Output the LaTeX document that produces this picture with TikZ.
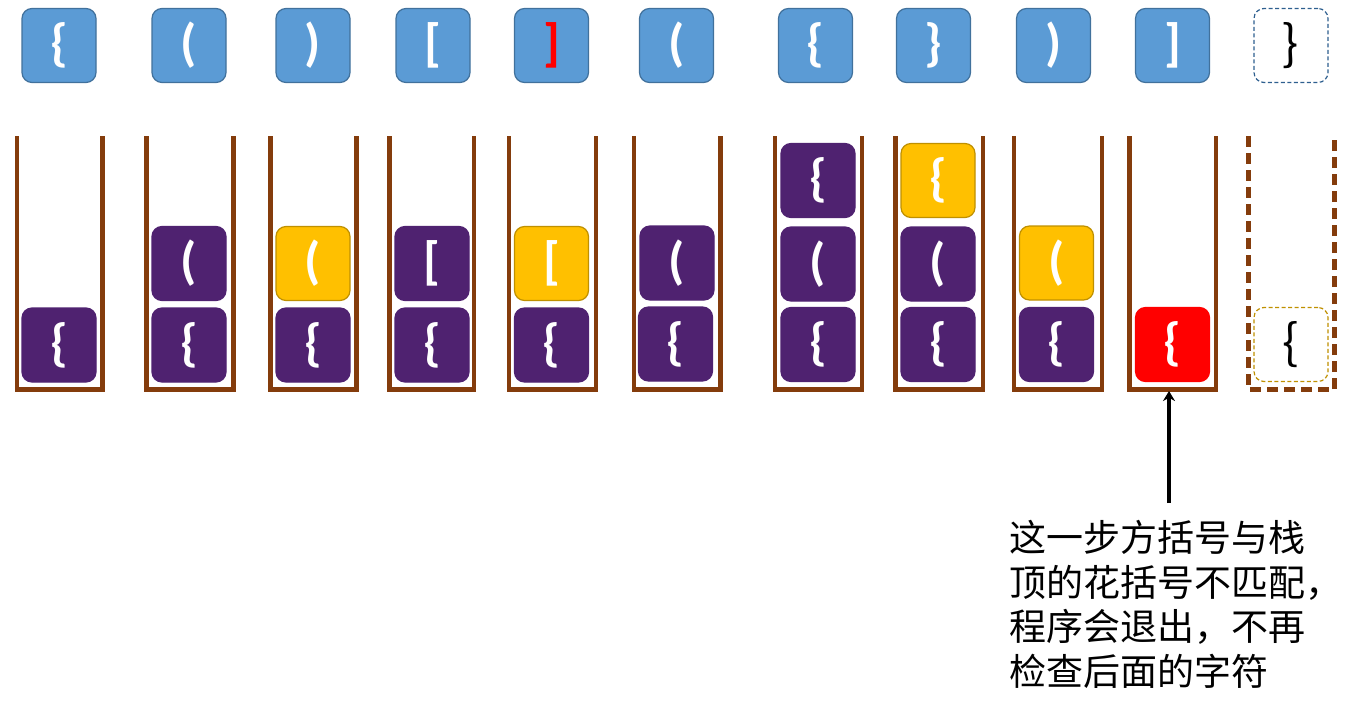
\documentclass[tikz,border=0pt]{standalone}
\usepackage{fontspec}
\usetikzlibrary{arrows.meta}
\newfontfamily\carl{Carlito}
\newfontfamily\cjk{Noto Sans CJK SC}
\definecolor{topblue}{HTML}{5B9BD5}
\definecolor{topedge}{HTML}{41719C}
\definecolor{stpurple}{HTML}{4F2270}
\definecolor{styellow}{HTML}{FFC000}
\definecolor{styedge}{HTML}{BF9000}
\definecolor{stbrown}{HTML}{843C0C}
\definecolor{dashblue}{HTML}{2E5F8F}
\tikzset{
  cell/.style={rounded corners=10pt, minimum width=74pt, minimum height=74pt, inner sep=0pt,
    font=\carl\bfseries\fontsize{52}{52}\selectfont, text=white, line width=1.2pt},
  topbox/.style={cell, fill=topblue, draw=topedge},
  pbox/.style={cell, fill=stpurple, draw=stpurple},
  ybox/.style={cell, fill=styellow, draw=styedge},
  rbox/.style={cell, fill=red, draw=red},
  ghost/.style={cell, draw=#1, dashed, dash pattern=on 4pt off 2.5pt, fill=white, text=black,
    font=\cjk\fontsize{48}{48}\selectfont},
  wall/.style={draw=stbrown, line width=4.5pt},
  dwall/.style={wall, dash pattern=on 11pt off 6pt},
}
\begin{document}
\begin{tikzpicture}[x=1pt,y=-1pt]
\useasboundingbox (0,0) rectangle (1366,718);
% top row
\node[topbox] (t1) at (59,45.5) {\{};
\node[topbox] (t2) at (189,45.5) {(};
\node[topbox] (t3) at (313,45.5) {)};
\node[topbox] (t4) at (433,45.5) {[};
\node[topbox, text=red] (t5) at (551.5,45.5) {]};
\node[topbox] (t6) at (676.5,45.5) {(};
\node[topbox] (t7) at (815.5,45.5) {\{};
\node[topbox] (t8) at (933.5,45.5) {\}};
\node[topbox] (t9) at (1053.5,45.5) {)};
\node[topbox] (t10) at (1172.5,45.5) {]};
\node[ghost=dashblue] (t11) at (1291,45.5) {\}};
% stacks
\draw[wall] (17,136) -- (17,389.5) -- (102.5,389.5) -- (102.5,136);
\draw[wall] (146.5,136) -- (146.5,389.5) -- (233.5,389.5) -- (233.5,136);
\draw[wall] (270.5,136) -- (270.5,389.5) -- (356.5,389.5) -- (356.5,136);
\draw[wall] (389.5,136) -- (389.5,389.5) -- (474,389.5) -- (474,136);
\draw[wall] (509,136) -- (509,389.5) -- (596,389.5) -- (596,136);
\draw[wall] (634,136) -- (634,389.5) -- (720.5,389.5) -- (720.5,136);
\draw[wall] (775,136) -- (775,389.5) -- (862,389.5) -- (862,136);
\draw[wall] (895.5,136) -- (895.5,389.5) -- (983,389.5) -- (983,136);
\draw[wall] (1014,136) -- (1014,389.5) -- (1102,389.5) -- (1102,136);
\draw[wall] (1129.5,136) -- (1129.5,389.5) -- (1216,389.5) -- (1216,136);
\draw[dwall] (1248.5,136) -- (1248.5,389.5) -- (1334.5,389.5) -- (1334.5,136);
% stack contents
\node[pbox] (s1a) at (59,345) {\{};
\node[pbox] (s2a) at (189,345) {\{};
\node[pbox] (s2b) at (189,263.5) {(};
\node[pbox] (s3a) at (313,345) {\{};
\node[ybox] (s3b) at (313,263.5) {(};
\node[pbox] (s4a) at (432,345) {\{};
\node[pbox] (s4b) at (432,263.5) {[};
\node[pbox] (s5a) at (551.5,345) {\{};
\node[ybox] (s5b) at (551.5,263.5) {[};
\node[pbox] (s6a) at (675.5,344) {\{};
\node[pbox] (s6b) at (677,263) {(};
\node[pbox] (s7a) at (818,344.5) {\{};
\node[pbox] (s7b) at (818,264) {(};
\node[pbox] (s7c) at (818,180.5) {\{};
\node[pbox] (s8a) at (938,344.5) {\{};
\node[pbox] (s8b) at (938,264) {(};
\node[ybox] (s8c) at (938,180.5) {\{};
\node[pbox] (s9a) at (1056.5,344.5) {\{};
\node[ybox] (s9b) at (1056.5,263) {(};
\node[rbox] (s10a) at (1172.5,344.5) {\{};
\node[ghost=styedge] (s11a) at (1291,344.5) {\{};
% note
\coordinate (arrtail) at (1169,503);
\coordinate (arrhead) at (1169,391);
\draw[line width=3.5pt, -{Stealth[length=10pt,width=12pt]}] (arrtail) -- (arrhead);
\node[anchor=north west, inner sep=0pt, align=left, font=\cjk\fontsize{37}{44.5}\selectfont]
  (note) at (1009,520) {这一步方括号与栈\\顶的花括号不匹配，\\程序会退出，不再\\检查后面的字符};
\end{tikzpicture}
\end{document}
